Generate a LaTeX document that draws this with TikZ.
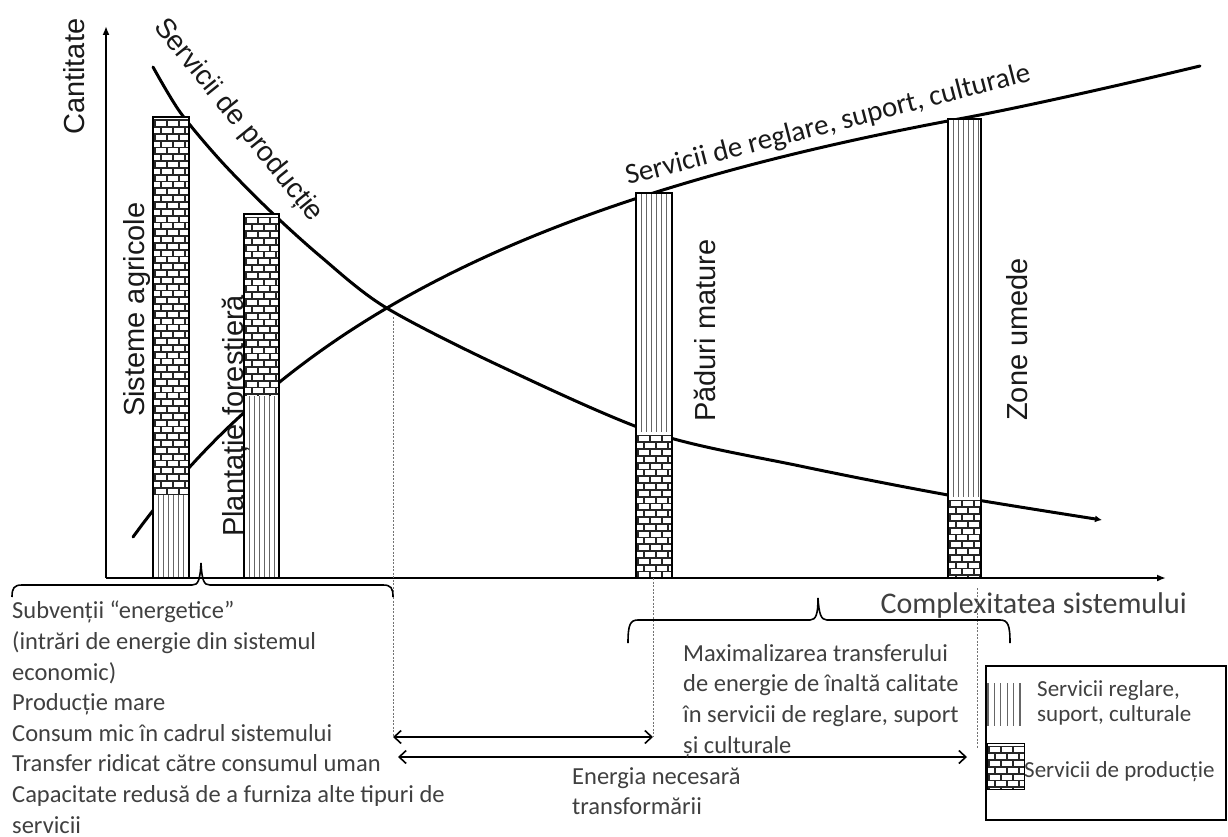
\documentclass[tikz,border=0pt]{standalone}
\usepackage{fontspec}
\setmainfont{Carlito}
\newfontfamily\arl{Liberation Sans}
\newfontfamily\carl{Carlito}
\usetikzlibrary{arrows.meta}

\tikzset{
  curve/.style={line width=3pt, line cap=round},
  brickline/.style={line width=1.8pt, draw=black!85},
  vline/.style={line width=1.1pt, draw=black!60},
  barframe/.style={draw, line width=1.6pt},
  axis/.style={line width=1.8pt, -{Latex[length=9pt,width=7pt]}},
  guide/.style={draw=black!55, line width=0.9pt, dash pattern=on 2pt off 1.5pt},
  dimarrow/.style={line width=1.8pt, {Straight Barb[length=7pt,width=13pt,line width=1.6pt]}-{Straight Barb[length=7pt,width=13pt,line width=1.6pt]}},
  bracepath/.style={line width=1.6pt},
  lbl/.style={font=\arl\fontsize{29}{34}\selectfont, text=black!90, inner sep=0pt},
  txt/.style={font=\carl\fontsize{24.5}{30.6}\selectfont, text=black!75, inner sep=0pt, align=left},
}

% brick fill: x1 y1 x2 y2 (y downwards)
\newcommand{\mybrickfill}[4]{%
  \begin{scope}
    \clip (#1,#2) rectangle (#3,#4);
    \fill[white] (#1,#2) rectangle (#3,#4);
    \pgfmathtruncatemacro{\mbnr}{(#4-#2)/6.8}
    \foreach \r in {0,...,\mbnr}{
      \pgfmathsetmacro{\mbyy}{#2+\r*6.8+3.4}
      \pgfmathsetmacro{\mboff}{mod(\r,2)*6}
      \draw[brickline] (#1,\mbyy) -- (#3,\mbyy);
      \foreach \k in {0,1,2,3}{
        \draw[brickline] ({#1+\mboff+\k*12+2},\mbyy) -- ({#1+\mboff+\k*12+2},{\mbyy+6.8});
      }
    }
  \end{scope}}
% vertical line fill: x1 y1 x2 y2
\newcommand{\myvlinefill}[4]{%
  \begin{scope}
    \clip (#1,#2) rectangle (#3,#4);
    \fill[white] (#1,#2) rectangle (#3,#4);
    \foreach \k in {0,...,6}{
      \draw[vline] ({#1+5.5+\k*5},#2) -- ({#1+5.5+\k*5},#4);
    }
  \end{scope}}

\begin{document}
\begin{tikzpicture}[x=1pt, y=-1pt]
\useasboundingbox (0,0) rectangle (1228,837);

% curves
\draw[curve, -{Latex[length=7pt,width=7pt]}] plot[smooth, tension=0.5] coordinates {(153,67) (180,112) (220,160) (267,208) (320,256) (385,307) (500,366) (654,433) (800,466) (948,495) (1102,520)};
\draw[curve] plot[domain=133:964, samples=90] (\x, {-122.8 + 3151.26/((\x+344.6)/100)}) .. controls (1010,109.5) and (1100,90) .. (1200,66);

% bars
\mybrickfill{153}{117}{189}{495}
\myvlinefill{153}{495}{189}{578}
\draw[barframe] (153,117) rectangle (189,578);

\mybrickfill{244}{214}{279}{396}
\myvlinefill{244}{396}{279}{578}
\draw[barframe] (244,214) rectangle (279,578);

\myvlinefill{636}{193}{672}{432}
\mybrickfill{636}{432}{672}{578}
\draw[barframe] (636,193) rectangle (672,578);

\myvlinefill{948}{119}{981}{497}
\mybrickfill{948}{497}{981}{578}
\draw[barframe] (948,119) rectangle (981,578);

% axes
\coordinate (O) at (106,578);
\coordinate (Ytop) at (106,26);
\coordinate (Xend) at (1166,578);
\draw[axis] (O) -- (Ytop);
\draw[axis] (O) -- (Xend);

% labels
\node[lbl, rotate=90, anchor=base west] (cant) at (84,135) {Cantitate};
\node[lbl, rotate=90, anchor=base west] (sist) at (144,417) {Sisteme agricole};
\node[lbl, rotate=90, anchor=base west] (plant) at (243,537) {Plantație forestieră};
\node[lbl, rotate=90, anchor=base west] (padm) at (715,422) {Păduri mature};
\node[lbl, rotate=90, anchor=base west] (zone) at (1027,421) {Zone umede};
\node[lbl, rotate=-51, anchor=base west, font=\arl\fontsize{28}{34}\selectfont] (sprod) at (153,27) {Servicii de producție};
\node[lbl, rotate=14.5, anchor=base west, font=\carl\fontsize{29}{34}\selectfont] (sregl) at (628,185) {Servicii de reglare, suport, culturale};
\node[txt, anchor=base east, font=\carl\fontsize{30}{34}\selectfont] (cx) at (1187,613) {Complexitatea sistemului};

% guide lines
\coordinate (cross) at (393,317);
\coordinate (g1b) at (393,737);
\coordinate (g2t) at (653,578);
\coordinate (g2b) at (653,737);
\coordinate (g3t) at (977,588);
\coordinate (g3b) at (977,748);
\draw[guide] (cross) -- (g1b);
\draw[guide] (g2t) -- (g2b);
\draw[guide] (g3t) -- (g3b);

% arrows
\coordinate (a1l) at (393,737);
\coordinate (a1r) at (653,737);
\coordinate (a2l) at (398,757);
\coordinate (a2r) at (967,757);
\draw[dimarrow] (a1l) -- (a1r);
\draw[dimarrow] (a2l) -- (a2r);

% braces
\draw[bracepath] (12,597) .. controls (12,588) and (14,585) .. (22,585) -- (192,585) .. controls (198,585) and (200,581) .. (201,563) .. controls (202,581) and (204,585) .. (210,585) -- (383,585) .. controls (391,585) and (393,588) .. (393,597);
\draw[bracepath] (628,643) .. controls (628,625) and (630,620) .. (638,620) -- (810,620) .. controls (816,620) and (818,614) .. (818,598) .. controls (819,614) and (821,620) .. (827,620) -- (1000,620) .. controls (1008,620) and (1010,625) .. (1010,643);

% texts
\node[txt, anchor=north west] (left) at (12,601) {Subvenții “energetice”\\(intrări de energie din sistemul\\economic)\\Producție mare\\Consum mic în cadrul sistemului\\Transfer ridicat către consumul uman\\Capacitate redusă de a furniza alte tipuri de\\servicii};
\node[txt, anchor=north west] (mid) at (683,644) {Maximalizarea transferului\\de energie de înaltă calitate\\în servicii de reglare, suport\\și culturale};
\node[txt, anchor=north west] (energ) at (572,767) {Energia necesară\\transformării};

% legend
\draw[line width=1.5pt] (986,666) rectangle (1226,820);
\begin{scope}
  \clip (986,683) rectangle (1022,726);
  \foreach \k in {0,...,5} { \draw[vline] ({988+\k*6.4},683) -- ({988+\k*6.4},726); }
\end{scope}
\mybrickfill{987}{743}{1024}{789}
\draw[line width=1pt] (987,743) rectangle (1024,789);
\node[txt, anchor=north west, font=\carl\fontsize{23}{25}\selectfont] (leg1) at (1037,680) {Servicii reglare,\\suport, culturale};
\node[txt, anchor=base west, font=\carl\fontsize{23}{25}\selectfont] (leg2) at (1024,777) {Servicii de producție};
\end{tikzpicture}
\end{document}
